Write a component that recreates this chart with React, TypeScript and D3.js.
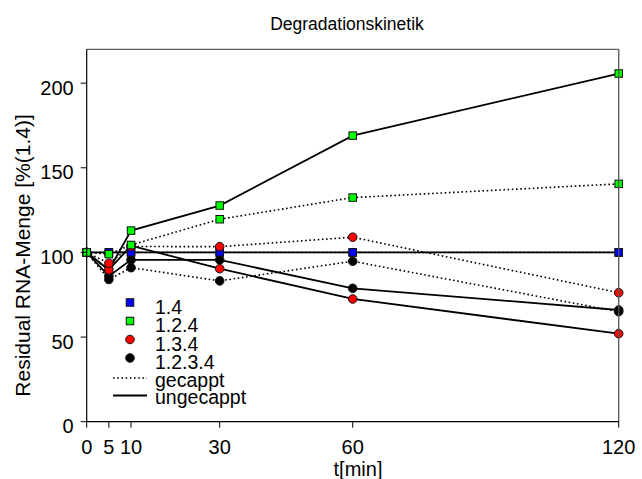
import React from "react";
import * as d3 from "d3";

const times = [0, 5, 10, 30, 60, 120];
const xTicks = [0, 5, 10, 30, 60, 120];
const yTicks = [0, 50, 100, 150, 200];
const seriesNames = ["1.4", "1.2.4", "1.3.4", "1.2.3.4"];
const seriesColors = ["#0000ff", "#00ff00", "#ff0000", "#000000"];
const seriesShapes = ["square", "square", "circle", "circle"];

const gecappt14 = [100, 100, 100, 100, 100, 100];
const ungecappt14 = [100, 100, 100, 100, 100, 100];
const gecappt124 = [100, 99, 104.4, 119.6, 132.4, 140.5];
const ungecappt124 = [100, 89.5, 112.9, 127.7, 169, 205.7];
const gecappt134 = [100, 93.6, 103.5, 103.4, 109, 76.2];
const ungecappt134 = [100, 89.7, 104, 90.4, 72.5, 52];
const gecappt1234 = [100, 84, 91, 83.2, 94.8, 65];
const ungecappt1234 = [100, 86, 95.6, 95.6, 78.8, 66];

const gecapptSeries = [gecappt14, gecappt124, gecappt134, gecappt1234];
const ungecapptSeries = [ungecappt14, ungecappt124, ungecappt134, ungecappt1234];
const styleNames = ["gecappt", "ungecappt"];

const title = "Degradationskinetik";
const xLabel = "t[min]";
const yLabel = "Residual RNA-Menge [%(1.4)]";

const W = 642;
const H = 479;
const left = 86.7;
const right = 618.7;
const top = 49.3;
const bottom = 421.7;
const FONT = "'Liberation Sans', Arial, Helvetica, sans-serif";

export default function App() {
  const x = d3.scaleLinear().domain([0, 120]).range([left, right]);
  const y = d3.scaleLinear().domain([0, 220]).range([bottom, top]);
  const line = d3
    .line<[number, number]>()
    .x((d) => x(d[0]))
    .y((d) => y(d[1]));

  const lineOrder = [0, 3, 2, 1];
  const ungecapptOrder = [0, 1, 3, 2];
  const gecapptOrder = [0, 3, 2, 1];

  const marker = (i: number, cx: number, cy: number, key: string) => {
    if (seriesShapes[i] === "square") {
      const s = 7.5;
      return (
        <rect
          key={key}
          x={cx - s / 2}
          y={cy - s / 2}
          width={s}
          height={s}
          fill={seriesColors[i]}
          stroke="#111"
          strokeWidth={1}
        />
      );
    }
    return (
      <circle key={key} cx={cx} cy={cy} r={4.3} fill={seriesColors[i]} stroke="#111" strokeWidth={1} />
    );
  };

  const legendX = 130;
  const legendTextX = 155;
  const legendBaselines = [313.5, 332, 350.5, 369];
  const styleBaselines = [386.5, 404];

  return (
    <svg
      width={W}
      height={H}
      style={{ position: "absolute", left: 0, top: 0, background: "#fff" }}
      fontFamily={FONT}
    >
      <rect x={0} y={0} width={W} height={H} fill="#fff" />
      <text x={347} y={30} fontSize={17.5} textAnchor="middle" fill="#000">
        {title}
      </text>

      {/* lines */}
      {lineOrder.map((i) => (
        <g key={"l" + i}>
          <path
            d={line(times.map((t, k) => [t, gecapptSeries[i][k]]) as [number, number][]) || ""}
            fill="none"
            stroke="#000"
            strokeWidth={1.6}
            strokeDasharray="1.6,2.6"
          />
          <path
            d={line(times.map((t, k) => [t, ungecapptSeries[i][k]]) as [number, number][]) || ""}
            fill="none"
            stroke="#000"
            strokeWidth={1.8}
          />
        </g>
      ))}

      {/* markers: ungecappt first, then gecappt */}
      {ungecapptOrder.map((i) => (
        <g key={"mu" + i}>
          {times.map((t, k) => marker(i, x(t), y(ungecapptSeries[i][k]), `u${i}-${k}`))}
        </g>
      ))}
      {gecapptOrder.map((i) => (
        <g key={"mg" + i}>
          {times.map((t, k) => marker(i, x(t), y(gecapptSeries[i][k]), `g${i}-${k}`))}
        </g>
      ))}

      {/* frame */}
      <line x1={left} x2={right} y1={top} y2={top} stroke="#333" strokeWidth={1} />
      <line x1={right} x2={right} y1={top} y2={bottom} stroke="#555" strokeWidth={1.3} />
      <line x1={left} x2={left} y1={top} y2={bottom} stroke="#000" strokeWidth={1.2} />
      <line x1={left} x2={right} y1={bottom} y2={bottom} stroke="#000" strokeWidth={1.2} />

      {/* y ticks */}
      {yTicks.map((v) => (
        <g key={"yt" + v}>
          <line x1={left - 6} x2={left} y1={y(v)} y2={y(v)} stroke="#000" strokeWidth={1} />
          <text x={left - 13} y={y(v) + 11.5} fontSize={20} textAnchor="end" fill="#000">
            {v}
          </text>
        </g>
      ))}

      {/* x ticks */}
      {xTicks.map((v) => (
        <g key={"xt" + v}>
          <line x1={x(v)} x2={x(v)} y1={bottom} y2={bottom + 6} stroke="#000" strokeWidth={1} />
          <text x={x(v)} y={454} fontSize={20} textAnchor="middle" fill="#000">
            {v}
          </text>
        </g>
      ))}

      <text x={358} y={476} fontSize={20} textAnchor="middle" fill="#000">
        {xLabel}
      </text>
      <text
        transform={`translate(30, ${(top + bottom) / 2 + 20}) rotate(-90)`}
        fontSize={21}
        textAnchor="middle"
        fill="#000"
      >
        {yLabel}
      </text>

      {/* legend */}
      {seriesNames.map((n, i) => (
        <g key={"lg" + i}>
          {marker(i, legendX, legendBaselines[i] - 11, "lm" + i)}
          <text x={legendTextX} y={legendBaselines[i]} fontSize={19.5} fill="#000">
            {n}
          </text>
        </g>
      ))}
      {styleNames.map((n, i) => (
        <g key={"ls" + i}>
          <line
            x1={113}
            x2={147}
            y1={styleBaselines[i] - 8.5}
            y2={styleBaselines[i] - 8.5}
            stroke="#000"
            strokeWidth={i === 0 ? 1.6 : 1.8}
            strokeDasharray={i === 0 ? "1.6,2.6" : undefined}
          />
          <text x={legendTextX} y={styleBaselines[i]} fontSize={19.5} fill="#000">
            {n}
          </text>
        </g>
      ))}
    </svg>
  );
}
